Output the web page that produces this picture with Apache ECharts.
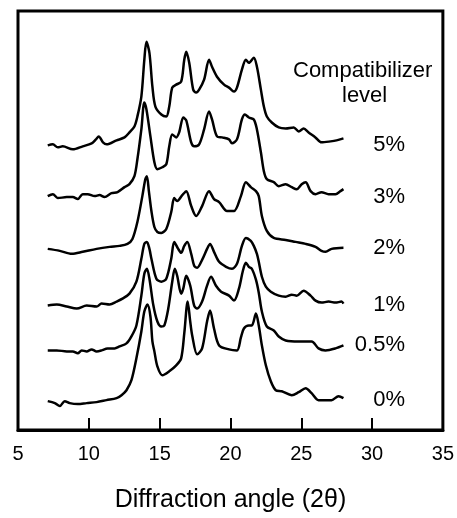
<!DOCTYPE html>
<html>
<head>
<meta charset="utf-8">
<script src="https://cdn.jsdelivr.net/npm/echarts@6/dist/echarts.min.js"></script>
<style>
  html, body { margin: 0; padding: 0; background: #fff; }
  #chart { width: 457px; height: 518px; }
</style>
</head>
<body>
<div id="chart"></div>
<script>
  // x-ray traces, [2theta, intensity above the trace's own baseline]
  const level5 = [[7.1,0],[7.46,1],[7.81,-2],[8.16,-1],[8.87,-4],[9.57,-1],[10.2,2],[10.5,6],[10.7,9],[11.0,3],[11.26,1],[11.96,5],[12.52,8],[12.87,13],[13.22,19],[13.43,29],[13.71,49],[13.92,86],[14.07,104],[14.28,93],[14.49,59],[14.7,39],[15.12,31],[15.47,29],[15.68,39],[15.89,58],[16.17,61],[16.52,64],[16.74,86],[16.88,94],[17.09,83],[17.37,56],[17.58,53],[17.79,56],[18.14,66],[18.49,86],[18.7,79],[19.05,69],[19.55,61],[19.9,58],[20.25,54],[20.46,58],[20.81,76],[21.09,86],[21.3,83],[21.65,88],[21.87,79],[22.15,56],[22.36,39],[22.57,29],[22.92,23],[23.41,18],[23.9,17],[24.47,18],[24.82,14],[25.17,17],[25.52,13],[26.0,8],[26.43,3],[27.07,4],[27.49,5],[27.98,7]];
  const level3 = [[7.1,0],[7.46,2],[7.81,-2],[8.44,-1],[8.87,-1],[9.22,-3],[9.57,2],[9.92,2],[10.41,0],[10.76,1],[11.11,-1],[11.6,3],[12.03,4],[12.52,9],[12.87,12],[13.22,20],[13.43,37],[13.71,67],[13.92,94],[14.07,87],[14.35,60],[14.63,34],[14.84,27],[15.19,29],[15.47,32],[15.68,50],[15.89,62],[16.17,59],[16.38,64],[16.67,79],[16.88,76],[17.23,54],[17.44,50],[17.79,52],[18.14,67],[18.49,85],[18.7,77],[19.05,60],[19.41,59],[19.9,57],[20.11,53],[20.46,57],[20.81,77],[21.02,82],[21.3,79],[21.65,77],[21.87,67],[22.15,44],[22.36,25],[22.57,17],[23.06,14],[23.41,10],[23.9,12],[24.33,9],[24.68,7],[25.03,12],[25.31,14],[25.66,5],[26.01,2],[26.43,4],[26.93,2],[27.42,2],[27.77,5],[27.98,7]];
  const level2 = [[7.1,2],[7.95,0],[8.8,-3],[9.57,-1],[10.55,2],[11.47,4],[12.17,5],[12.73,7],[13.08,12],[13.43,29],[13.78,55],[13.99,72],[14.1,75],[14.24,60],[14.42,40],[14.63,24],[14.84,19],[15.12,18],[15.47,22],[15.82,39],[16.03,53],[16.24,50],[16.6,56],[16.88,60],[17.23,45],[17.58,35],[18.0,45],[18.49,60],[18.84,52],[19.2,49],[19.76,40],[20.25,40],[20.74,55],[21.09,69],[21.44,64],[21.8,60],[22.0,55],[22.22,35],[22.57,20],[23.06,13],[23.9,11],[24.6,9],[25.31,7],[26.01,4],[26.43,0],[26.72,-1],[27.14,2],[27.98,3]];
  const level1 = [[7.1,0],[7.74,1],[8.44,-1],[9.15,-3],[9.85,0],[10.55,-1],[10.9,2],[11.47,1],[11.96,4],[12.38,7],[12.87,12],[13.36,24],[13.71,47],[13.92,62],[14.1,64],[14.28,57],[14.42,47],[14.77,27],[15.12,24],[15.47,27],[15.82,47],[16.03,64],[16.31,57],[16.52,53],[16.74,60],[16.95,64],[17.23,52],[17.44,40],[17.65,38],[18.0,46],[18.35,57],[18.56,62],[18.84,54],[19.2,44],[19.69,39],[20.11,37],[20.46,42],[20.81,60],[21.09,68],[21.44,65],[21.65,60],[21.87,52],[22.0,44],[22.22,29],[22.5,19],[22.85,14],[23.41,10],[23.9,9],[24.33,11],[24.68,10],[25.17,15],[25.66,10],[26.01,5],[26.43,3],[26.93,4],[27.42,3],[27.84,4],[27.98,2]];
  const level05 = [[7.1,0],[7.74,0],[8.44,-1],[8.87,-1],[9.22,-3],[9.5,0],[9.85,-1],[10.2,1],[10.55,-1],[10.9,0],[11.32,2],[11.82,2],[12.17,4],[12.66,7],[13.01,14],[13.36,25],[13.71,55],[13.92,77],[14.1,82],[14.28,72],[14.56,45],[14.84,29],[15.12,24],[15.33,25],[15.61,42],[15.89,69],[16.07,82],[16.24,75],[16.52,57],[16.67,62],[16.88,75],[17.16,65],[17.44,45],[17.65,42],[18.0,49],[18.35,65],[18.63,74],[18.98,65],[19.34,59],[19.9,55],[20.25,50],[20.6,62],[20.88,80],[21.09,88],[21.3,84],[21.51,82],[21.8,71],[22.0,58],[22.22,39],[22.57,24],[23.06,20],[23.41,14],[23.9,10],[24.82,9],[25.73,9],[26.22,2],[26.71,0],[27.42,2],[27.98,5]];
  const level0 = [[7.1,0],[7.6,-2],[7.95,-5],[8.3,0],[8.65,-2],[9.22,-3],[9.85,-2],[10.55,-1],[11.25,1],[11.96,3],[12.31,6],[12.66,11],[13.01,21],[13.36,43],[13.71,70],[13.92,90],[14.14,97],[14.35,85],[14.49,60],[14.63,50],[14.84,35],[15.19,26],[15.68,30],[16.17,36],[16.52,43],[16.74,68],[16.98,100],[17.16,80],[17.3,66],[17.65,47],[18.0,53],[18.35,80],[18.56,91],[18.84,73],[19.2,56],[19.9,52],[20.46,51],[20.74,64],[20.95,73],[21.3,76],[21.51,76],[21.8,88],[22.0,76],[22.22,56],[22.5,36],[22.85,20],[23.2,11],[23.62,10],[24.33,6],[24.82,9],[25.31,13],[25.73,8],[26.22,1],[26.71,1],[27.14,1],[27.63,5],[27.98,3]];

  const traces = [level5, level3, level2, level1, level05, level0];
  const levelNames = ['5%', '3%', '2%', '1%', '0.5%', '0%'];
  const offsets = [286, 235, 180, 125, 80, 29];   // vertical stacking of the traces
  const xTicks = [5, 10, 15, 20, 25, 30, 35];

  const FONT = '"Liberation Sans", Arial, sans-serif';

  const chart = echarts.init(document.getElementById('chart'), null, { renderer: 'canvas' });

  const series = traces.map((tr, i) => ({
    type: 'line',
    name: levelNames[i],
    data: tr.map(p => [p[0], p[1] + offsets[i]]),
    showSymbol: false,
    smooth: 0.3,
    lineStyle: { color: '#000', width: 2.5 },
    animation: false,
  }));

  // percent labels sit right of the traces
  const labelY = [145, 197, 248, 305, 345, 400];
  const labels = levelNames.map((n, i) => ({
    type: 'text',
    right: 52,
    top: labelY[i] - 11,
    style: { text: n, font: '22px ' + FONT, fill: '#000', textAlign: 'right' },
  }));

  chart.setOption({
    backgroundColor: '#fff',
    grid: {
      left: 18, right: 12, top: 11, bottom: 86,
      show: true, borderColor: '#000', borderWidth: 3,
    },
    xAxis: {
      type: 'value',
      min: xTicks[0],
      max: xTicks[xTicks.length - 1],
      interval: 5,
      name: 'Diffraction angle (2θ)',
      nameLocation: 'middle',
      nameGap: 58,
      nameTextStyle: { fontFamily: FONT, fontSize: 25, color: '#000' },
      axisLine: { lineStyle: { color: '#000', width: 3 } },
      axisTick: { inside: true, length: 12, lineStyle: { color: '#000', width: 2 } },
      axisLabel: { fontFamily: FONT, fontSize: 20, color: '#000', margin: 14 },
      splitLine: { show: false },
    },
    yAxis: {
      type: 'value',
      min: 0,
      max: 421,
      show: false,
    },
    graphic: [
      {
        type: 'text', left: 293, top: 60,
        style: { text: 'Compatibilizer', font: '22px ' + FONT, fill: '#000' },
      },
      {
        type: 'text', left: 342, top: 85,
        style: { text: 'level', font: '22px ' + FONT, fill: '#000' },
      },
    ].concat(labels),
    series: series,
  });
</script>
</body>
</html>
